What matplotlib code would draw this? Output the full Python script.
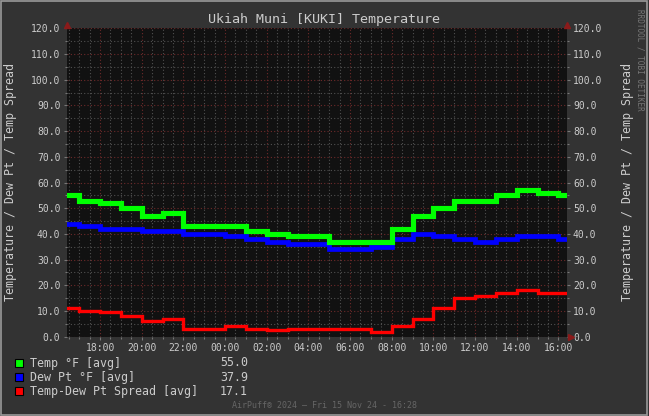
import numpy as np
import pandas as pd
import matplotlib
matplotlib.use("Agg")
import matplotlib.pyplot as plt
import matplotlib.dates as mdates
from matplotlib.patches import Rectangle

# hourly observations (first and last hour are partial)
hour_starts = ["2024-11-14 16:24"] + list(pd.date_range("2024-11-14 17:00", "2024-11-15 16:00", freq="h").strftime("%Y-%m-%d %H:%M"))
end_time = "2024-11-15 16:24"

temp = [55, 53, 52, 50, 47, 48, 43, 43, 43, 41, 40, 39, 39, 37, 37, 37, 42, 47, 50, 53, 53, 55, 57, 56, 55]
dewpt = [44, 43, 42, 42, 41, 41, 40, 40, 39, 38, 37, 36, 36, 34, 34, 35, 38, 40, 39, 38, 37, 38, 39, 39, 38]
spread = [11, 10, 9.5, 8, 6, 7, 3, 3, 4, 3, 2.5, 3, 3, 3, 3, 2, 4, 7, 11, 15, 16, 17, 18, 17, 17]

legend_names = ["Temp °F [avg]", "Dew Pt °F [avg]", "Temp-Dew Pt Spread [avg]"]
legend_values = ["55.0", "37.9", "17.1"]
colors = ["#00ff00", "#0000ff", "#ff0000"]

bg = "#333333"
txt = "#cccccc"
W, H = 649, 416

times = pd.to_datetime(hour_starts + [end_time])

fig = plt.figure(figsize=(6.49, 4.16), dpi=100, facecolor=bg)
ax = fig.add_axes([0.1028, 0.1906, 0.7704, 0.7413])
ax.set_facecolor("#111111")

# step lines, red first so green ends on top
widths = [3.7, 3.4, 2.4]
series = [temp, dewpt, spread]
for i in [2, 1, 0]:
    vals = series[i] + [series[i][-1]]
    ax.step(times, vals, where="post", color=colors[i], lw=widths[i], solid_joinstyle="miter", zorder=3 + (2 - i))

ax.set_xlim(times[0], times[-1])
ax.set_ylim(0, 120)

ax.xaxis.set_major_locator(mdates.HourLocator(byhour=range(0, 24, 2)))
ax.xaxis.set_minor_locator(mdates.MinuteLocator(byminute=[0, 30]))
ax.xaxis.set_major_formatter(mdates.DateFormatter("%H:%M"))
ax.set_yticks(np.arange(0, 121, 10))
ax.set_yticks(np.arange(5, 120, 10), minor=True)
ax.yaxis.set_major_formatter(matplotlib.ticker.FormatStrFormatter("%.1f"))

ax.grid(which="minor", color="#505050", lw=0.8, ls=(0, (1, 2)))
ax.grid(which="major", color="#6e2a2a", lw=0.8, ls=(0, (1, 2)))
ax.set_axisbelow(True)

for s in ax.spines.values():
    s.set_visible(False)

mono = "DejaVu Sans Mono"
ax.tick_params(axis="both", which="both", colors="#777777", labelcolor=txt, labelsize=7, direction="out")
ax.tick_params(which="major", length=2.5, width=0.8, pad=2)
ax.tick_params(which="minor", length=1.5, width=0.8)
ax.tick_params(axis="y", labelright=True, right=True, which="both")
for lab in ax.get_xticklabels() + ax.get_yticklabels():
    lab.set_fontfamily(mono)

ylab = "Temperature / Dew Pt / Temp Spread"
fig.text(11 / W, 1 - 182 / H, ylab, rotation=90, color=txt, fontsize=8.4,
         family=mono, ha="center", va="center")
fig.text(628 / W, 1 - 182 / H, ylab, rotation=90, color=txt, fontsize=8.4,
         family=mono, ha="center", va="center")

fig.text(0.5, 1 - 19 / H, "Ukiah Muni [KUKI] Temperature", color=txt, fontsize=9.6,
         family=mono, ha="center", va="center")

# axis arrows
arrow_c = "#8b1a1a"
ax.plot([0], [1.012], marker="^", ms=4, color=arrow_c, transform=ax.transAxes, clip_on=False)
ax.plot([1], [1.012], marker="^", ms=4, color=arrow_c, transform=ax.transAxes, clip_on=False)
ax.plot([1.008], [0], marker=">", ms=4, color=arrow_c, transform=ax.transAxes, clip_on=False)

# legend
for i in range(3):
    yc = 363 + i * 14.2
    fig.add_artist(Rectangle((15 / W, 1 - (yc + 4) / H), 8 / W, 8 / H, transform=fig.transFigure,
                             facecolor=colors[i], edgecolor="black", lw=0.8))
    fig.text(30 / W, 1 - yc / H, legend_names[i], color=txt, fontsize=8.4, family=mono, va="center")
    fig.text(248 / W, 1 - yc / H, legend_values[i], color=txt, fontsize=8.4, family=mono, va="center", ha="right")

fig.text(0.5, 1 - 405 / H, "AirPuff® 2024 – Fri 15 Nov 24 - 16:28", color="#666666", fontsize=6,
         family=mono, ha="center", va="center")
fig.text(640 / W, 1 - 60 / H, "RRDTOOL / TOBI OETIKER", color="#777777", fontsize=5.5,
         family=mono, ha="center", va="center", rotation=270)

fig.add_artist(Rectangle((0.001, 0.002), 0.996, 0.996, transform=fig.transFigure,
                         facecolor="none", edgecolor="#9a9a9a", lw=1.2))

fig.savefig("out.png", dpi=100, facecolor=bg)
